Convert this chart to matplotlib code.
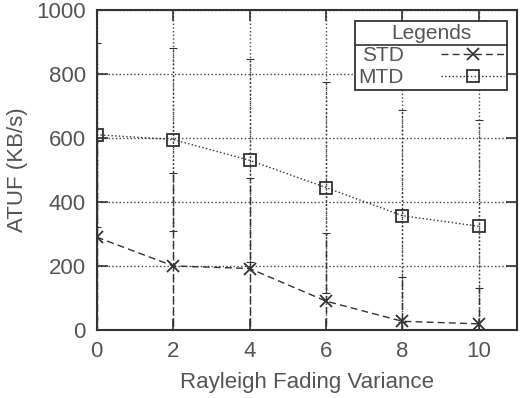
import matplotlib
matplotlib.use("Agg")
import matplotlib.pyplot as plt
from matplotlib.lines import Line2D

plt.rcParams['font.family'] = ['Liberation Sans', 'DejaVu Sans']

x = [0, 2, 4, 6, 8, 10]
std = [290, 200, 192, 90, 27, 19]
mtd = [610, 595, 530, 445, 357, 324]
std_err = [300, 290, 283, 213, 138, 113]
mtd_err = [287, 286, 317, 330, 331, 333]
xticks = [0, 2, 4, 6, 8, 10]
yticks = [0, 200, 400, 600, 800, 1000]

col = '#333333'
txt = '#555555'

fig = plt.figure(figsize=(5.26, 3.98), dpi=100)
ax = fig.add_axes([0.184, 0.171, 0.799, 0.804])

eb1 = ax.errorbar(x, std, yerr=std_err, fmt='none', ecolor=col, elinewidth=1.0,
                  capsize=3, capthick=0.8)
eb1.lines[2][0].set_linestyle((0, (5, 3)))
eb2 = ax.errorbar(x, mtd, yerr=mtd_err, fmt='none', ecolor=col, elinewidth=1.0,
                  capsize=3, capthick=0.8)
eb2.lines[2][0].set_linestyle((0, (1, 2)))

l1, = ax.plot(x, std, linestyle='--', dashes=(5, 3), color=col, lw=1.0,
              marker='x', markersize=9, markeredgewidth=1.3, label='STD')
l2, = ax.plot(x, mtd, linestyle=':', color=col, lw=1.0,
              marker='s', markersize=9, markerfacecolor='none',
              markeredgewidth=1.3, label='MTD')

ax.set_xlim(0, 11)
ax.set_ylim(0, 1000)
ax.set_xticks(xticks)
ax.set_yticks(yticks)
ax.grid(True, linestyle=':', color='#444444', lw=1.0)
ax.tick_params(direction='in', length=8, width=1.2, top=True, right=True,
               labelsize=16, colors=col, pad=8)
ax.tick_params(labelcolor=txt)
for s in ax.spines.values():
    s.set_linewidth(1.5)
    s.set_color(col)

ax.set_xlabel('Rayleigh Fading Variance', fontsize=16, color=txt, labelpad=7)
ax.set_ylabel('ATUF (KB/s)', fontsize=16, color=txt, labelpad=6)

leg = ax.legend(handles=[l1, l2], title='Legends', loc='upper right',
                bbox_to_anchor=(0.976, 0.966), markerfirst=False,
                fancybox=False, framealpha=1, edgecolor=col, fontsize=15,
                title_fontsize=15, handlelength=3.0, borderpad=0.15,
                labelspacing=0.15, handletextpad=1.8, borderaxespad=0)
leg.get_frame().set_linewidth(1.3)
for t in leg.get_texts():
    t.set_color(txt)
leg.get_title().set_color(txt)

fig.canvas.draw()
r = fig.canvas.get_renderer()
fb = leg.get_frame().get_window_extent(r)
tb = leg.get_title().get_window_extent(r)
t0 = leg.get_texts()[0].get_window_extent(r)
yline = (tb.y0 + t0.y1) / 2
inv = fig.transFigure.inverted()
(x0, yl), = inv.transform([(fb.x0, yline)])
(x1, _), = inv.transform([(fb.x1, yline)])
fig.add_artist(Line2D([x0, x1], [yl, yl], color=col, lw=1.2, zorder=10))

fig.savefig('out.png', dpi=100)
